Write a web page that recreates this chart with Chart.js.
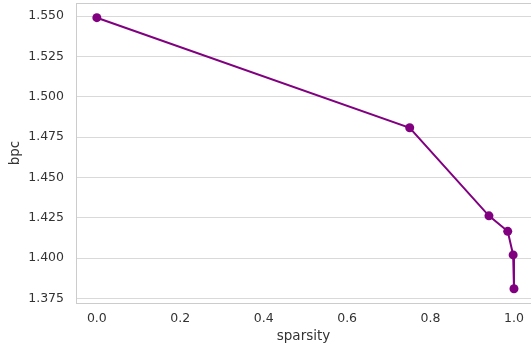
<!DOCTYPE html>
<html>
<head>
<meta charset="utf-8">
<script src="https://cdn.jsdelivr.net/npm/chart.js@4"></script>
<style>
html,body{margin:0;padding:0;background:#fff;}
#wrap{width:531px;height:348px;position:relative;}
</style>
</head>
<body>
<div id="wrap"><canvas id="c"></canvas></div>
<script>
const sparsity = [0.0, 0.75, 0.94, 0.985, 0.998, 1.0];
const bpc = [1.549, 1.4808, 1.4262, 1.4166, 1.402, 1.381];
const xTicks = [0.0, 0.2, 0.4, 0.6, 0.8, 1.0];
const yTicks = [1.375, 1.400, 1.425, 1.450, 1.475, 1.500, 1.525, 1.550];

const FONT = "'DejaVu Sans', sans-serif";
const TEXT = '#333333';
const SPINE = '#cccccc';
const GRID = '#d9d9d9';

const topSpine = {
  id: 'topSpine',
  afterDraw(chart) {
    const {ctx, chartArea: a} = chart;
    ctx.save();
    ctx.strokeStyle = SPINE;
    ctx.lineWidth = 1;
    ctx.beginPath();
    ctx.moveTo(a.left, a.top + 0.5);
    ctx.lineTo(a.right, a.top + 0.5);
    ctx.stroke();
    ctx.restore();
  }
};

function noPad(s) {
  s.paddingTop = 0; s.paddingBottom = 0; s.paddingLeft = 0; s.paddingRight = 0;
}

new Chart(document.getElementById('c'), {
  type: 'line',
  data: {
    datasets: [{
      data: sparsity.map((x, i) => ({x: x, y: bpc[i]})),
      borderColor: '#800080',
      backgroundColor: '#800080',
      pointBackgroundColor: '#800080',
      pointBorderColor: '#800080',
      borderWidth: 2,
      pointRadius: 4.5,
      pointBorderWidth: 0,
      tension: 0,
      fill: false
    }]
  },
  options: {
    responsive: true,
    maintainAspectRatio: false,
    animation: false,
    layout: {autoPadding: false, padding: {top: 3, right: 0, left: 0, bottom: 0}},
    plugins: {legend: {display: false}, tooltip: {enabled: false}},
    scales: {
      x: {
        type: 'linear',
        min: -0.05,
        max: 1.0408,
        afterBuildTicks: s => { s.ticks = xTicks.map(v => ({value: v})); },
        afterFit: s => { s.height = 45; noPad(s); },
        grid: {display: false, drawTicks: false},
        border: {display: true, color: SPINE, width: 1},
        ticks: {
          color: TEXT, font: {family: FONT, size: 12.5}, padding: 8,
          maxRotation: 0, autoSkip: false,
          callback: v => Number(v).toFixed(1)
        },
        title: {display: true, text: 'sparsity', color: TEXT,
          font: {family: FONT, size: 13.5}, padding: {top: 0, bottom: 3}}
      },
      y: {
        type: 'linear',
        min: 1.3722,
        max: 1.5581,
        afterBuildTicks: s => { s.ticks = yTicks.map(v => ({value: v})); },
        afterFit: s => { s.width = 76; noPad(s); },
        grid: {display: true, color: GRID, lineWidth: 1, drawTicks: false},
        border: {display: true, color: SPINE, width: 1},
        ticks: {
          color: TEXT, font: {family: FONT, size: 12.5}, padding: 12,
          autoSkip: false,
          callback: v => Number(v).toFixed(3)
        },
        title: {display: true, text: 'bpc', color: TEXT,
          font: {family: FONT, size: 13.5}, padding: {top: 7, bottom: 0}}
      }
    }
  },
  plugins: [topSpine]
});
</script>
</body>
</html>
